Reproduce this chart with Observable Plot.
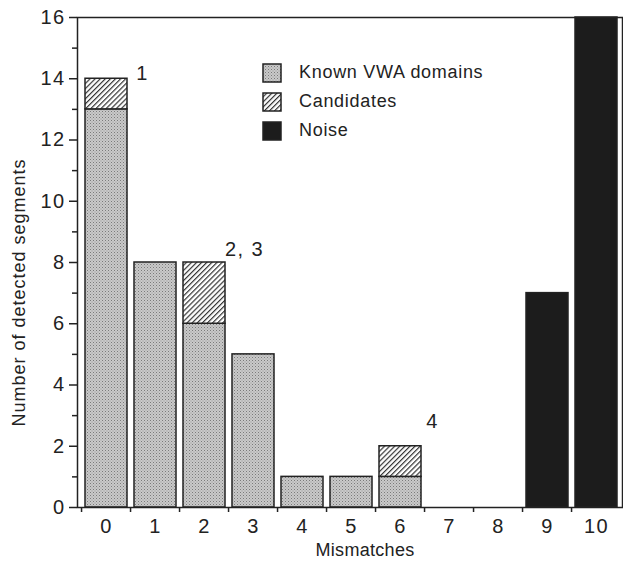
<!DOCTYPE html>
<html>
<head>
<meta charset="utf-8">
<script src="https://cdn.jsdelivr.net/npm/d3@7"></script>
<script src="https://cdn.jsdelivr.net/npm/@observablehq/plot@0.6"></script>
<style>
  body { margin: 0; background: #fff; overflow: hidden; }
  #wrap { position: relative; width: 623px; height: 563px; font-family: "Liberation Sans", Arial, sans-serif; color: #222; }
  #wrap svg text { letter-spacing: 1.4px; font-size: 20px; }
  #wrap svg .xtitle text { letter-spacing: 0.3px; font-size: 18px; }
  #wrap svg .ytitle text { letter-spacing: 1px; font-size: 18px; }
  #legend { position: absolute; left: 262px; top: 63px; font-size: 18px; letter-spacing: 0.7px; }
  #legend .row { display: flex; align-items: center; height: 19px; margin-bottom: 10px; }
  #legend svg { display: block; margin-right: 17px; }
</style>
</head>
<body>
<div id="wrap"><div id="legend"></div></div>
<script>
// ---- data ----
const mismatches = ["0", "1", "2", "3", "4", "5", "6", "7", "8", "9", "10"];
const known      = [13, 8, 6, 5, 1, 1, 1, 0, 0, 0, 0];
const candidates = [1, 0, 2, 0, 0, 0, 1, 0, 0, 0, 0];
const noise      = [0, 0, 0, 0, 0, 0, 0, 0, 0, 7, 16];
const seriesNames = ["Known VWA domains", "Candidates", "Noise"];
const annotationLabels = ["1", "2, 3", "4"];
const annotationBars   = ["0", "2", "6"];
const annotationTops   = [14, 8, 2];
const yMajorTicks = [0, 2, 4, 6, 8, 10, 12, 14, 16];
const yMinorTicks = [1, 3, 5, 7, 9, 11, 13, 15];
const xTitle = "Mismatches";
const yTitle = "Number of detected segments";

// ---- build table ----
const seriesValues = [known, candidates, noise];
const rows = [];
seriesNames.forEach((s, si) => {
  mismatches.forEach((m, i) => {
    const v = seriesValues[si][i];
    if (v > 0) rows.push({ series: s, m, v });
  });
});
const annotations = annotationLabels.map((label, i) => ({ label, at: annotationBars[i], top: annotationTops[i] }));

const fills = ["url(#stipple)", "url(#hatch)", "#1c1c1c"];
const W = 623, H = 563, ML = 77, MR = 1, MT = 17, MB = 56;
const xRange = [ML, 626];  // plot area runs slightly past the page edge, as in the original
const step = (xRange[1] - xRange[0]) / mismatches.length;
const ink = "#222";

const annOffsets = [[36, -5], [40, -13], [32, -25]];

const chart = Plot.plot({
  width: W, height: H,
  marginLeft: ML, marginRight: MR, marginTop: MT, marginBottom: MB,
  style: { fontFamily: "'Liberation Sans', Arial, sans-serif", fontSize: "20px", color: ink, background: "transparent", overflow: "visible" },
  x: { domain: mismatches, range: xRange, paddingInner: 0.14, paddingOuter: 0.07, label: null },
  y: { domain: [0, 16], label: null },
  color: { domain: seriesNames, range: fills },
  marks: [
    Plot.barY(rows, { x: "m", y: "v", fill: "series", stroke: ink, strokeWidth: 1.5 }),
    Plot.frame({ stroke: ink, strokeWidth: 1.5 }),
    Plot.axisY({ ticks: yMajorTicks, tickSize: 8, tickPadding: 4, label: null, stroke: ink, strokeWidth: 1.5, fontSize: 20 }),
    Plot.axisY({ ticks: yMinorTicks, tickSize: 5, tickFormat: () => "", label: null, stroke: ink, strokeWidth: 1.5 }),
    Plot.axisX({ tickSize: 5, tickFormat: () => "", label: null, dx: -step / 2, stroke: ink, strokeWidth: 1.5 }),
    Plot.axisX({ tickSize: 0, tickPadding: 11, label: null, fontSize: 20 }),
    ...annotations.map((a, i) => Plot.text([a], {
      x: "at", y: "top", text: "label", dx: annOffsets[i][0], dy: annOffsets[i][1], fontSize: 20, fill: ink
    })),
    Plot.text([xTitle], { frameAnchor: "bottom", lineAnchor: "middle", textAnchor: "middle", dx: 15, dy: 43, fontSize: 18, fill: ink, className: "xtitle" }),
    Plot.text([yTitle], { frameAnchor: "left", lineAnchor: "middle", textAnchor: "middle", rotate: -90, dx: -58, dy: 30, fontSize: 18, fill: ink, className: "ytitle" })
  ]
});

// patterns
const defs = d3.select(chart).insert("defs", ":first-child");
const stip = defs.append("pattern").attr("id", "stipple").attr("patternUnits", "userSpaceOnUse")
  .attr("width", 3).attr("height", 3);
stip.append("rect").attr("width", 3).attr("height", 3).attr("fill", "#c9c9c9");
stip.append("rect").attr("x", 0).attr("y", 0).attr("width", 1).attr("height", 1).attr("fill", "#7a7a7a");
stip.append("rect").attr("x", 1.5).attr("y", 1.5).attr("width", 1).attr("height", 1).attr("fill", "#959595");
const hatch = defs.append("pattern").attr("id", "hatch").attr("patternUnits", "userSpaceOnUse")
  .attr("width", 3.6).attr("height", 3.6).attr("patternTransform", "rotate(45)");
hatch.append("rect").attr("width", 3.6).attr("height", 3.6).attr("fill", "#fff");
hatch.append("line").attr("x1", 0.6).attr("y1", 0).attr("x2", 0.6).attr("y2", 3.6)
  .attr("stroke", "#333").attr("stroke-width", 1.2);

const wrap = document.getElementById("wrap");
wrap.insertBefore(chart, wrap.firstChild);

// legend
const legend = d3.select("#legend");
seriesNames.forEach((s, i) => {
  const row = legend.append("div").attr("class", "row");
  const sv = row.append("svg").attr("width", 20).attr("height", 20);
  sv.append("rect").attr("x", 1).attr("y", 1).attr("width", 18).attr("height", 18)
    .attr("fill", fills[i]).attr("stroke", ink).attr("stroke-width", 1.5);
  row.append("span").text(s);
});
</script>
</body>
</html>
